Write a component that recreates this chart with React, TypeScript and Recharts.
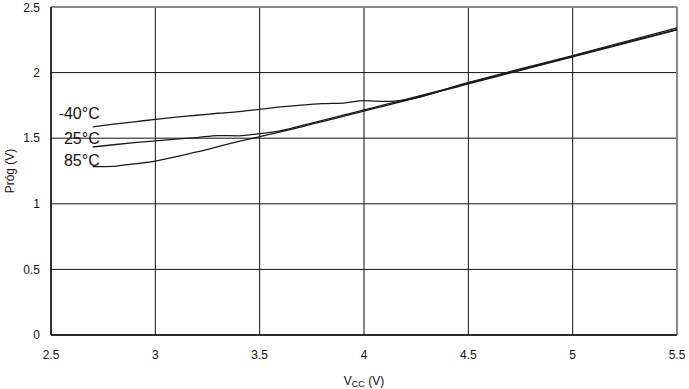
import { CartesianGrid, Line, LineChart, ReferenceLine, XAxis, YAxis } from 'recharts';

const vcc = [2.7, 2.8, 2.9, 3.0, 3.1, 3.2, 3.3, 3.4, 3.5, 3.6, 3.7, 3.8, 3.9, 4.0, 4.1, 4.2, 4.5, 5.0, 5.5];
const minus40 = [1.587, 1.607, 1.625, 1.644, 1.66, 1.675, 1.69, 1.703, 1.72, 1.738, 1.752, 1.763, 1.768, 1.786, 1.78, 1.792, 1.925, 2.13, 2.34];
const plus25 = [1.433, 1.45, 1.466, 1.48, 1.493, 1.505, 1.52, 1.518, 1.535, 1.556, 1.595, 1.635, 1.675, 1.715, 1.755, 1.795, 1.92, 2.125, 2.33];
const plus85 = [1.283, 1.286, 1.305, 1.325, 1.36, 1.395, 1.435, 1.475, 1.512, 1.548, 1.587, 1.627, 1.667, 1.707, 1.747, 1.787, 1.915, 2.12, 2.325];

const xTicks = [2.5, 3, 3.5, 4, 4.5, 5, 5.5];
const yTicks = [0, 0.5, 1, 1.5, 2, 2.5];

const series = [
  { key: 't40', name: '-40°C', values: minus40, dy: -8 },
  { key: 't25', name: '25°C', values: plus25, dy: -3 },
  { key: 't85', name: '85°C', values: plus85, dy: -1 },
];

const data = vcc.map((v, i) => ({
  vcc: v,
  t40: minus40[i],
  t25: plus25[i],
  t85: plus85[i],
}));

const font = '"Liberation Sans", Arial, sans-serif';

function seriesLabel(name: string, dy: number) {
  return (props: any) => {
    if (props.index !== 0) return null;
    return (
      <text x={props.x + 7} y={props.y + dy} textAnchor="end" fontSize={16} fontFamily={font} fill="#111">
        {name}
      </text>
    );
  };
}

function XTitle({ viewBox }: any) {
  const cx = viewBox.x + viewBox.width / 2;
  return (
    <text x={cx} y={385} textAnchor="middle" fontSize={12} fontFamily={font} fill="#111">
      <tspan>V</tspan>
      <tspan fontSize={9} dy={2}>CC</tspan>
      <tspan dy={-2}> (V)</tspan>
    </text>
  );
}

function YTitle({ viewBox }: any) {
  const cy = viewBox.y + viewBox.height / 2;
  return (
    <text
      x={14}
      y={cy}
      transform={`rotate(-90, 14, ${cy})`}
      textAnchor="middle"
      fontSize={12}
      fontFamily={font}
      fill="#111"
    >
      Próg (V)
    </text>
  );
}

export default function App() {
  return (
    <div style={{ position: 'absolute', left: 0, top: 0, background: '#fff' }}>
      <LineChart width={689} height={389} data={data} margin={{ top: 7, right: 12, left: 0, bottom: 0 }}>
        <CartesianGrid stroke="#111" strokeWidth={1} horizontalValues={yTicks} verticalValues={xTicks} />
        <XAxis
          dataKey="vcc"
          type="number"
          domain={[2.5, 5.5]}
          ticks={xTicks}
          height={54}
          tickLine={false}
          tickSize={6}
          tickMargin={9}
          axisLine={{ stroke: '#111', strokeWidth: 1.5 }}
          tick={{ fontSize: 12, fontFamily: font, fill: '#111' }}
          label={<XTitle />}
        />
        <YAxis
          type="number"
          domain={[0, 2.5]}
          ticks={yTicks}
          width={51}
          tickLine={false}
          tickSize={6}
          tickMargin={5}
          axisLine={{ stroke: '#111', strokeWidth: 1.5 }}
          tick={{ fontSize: 12, fontFamily: font, fill: '#111' }}
          label={<YTitle />}
        />
        <ReferenceLine y={2.5} stroke="#8a8a8a" strokeWidth={2} />
        <ReferenceLine x={5.5} stroke="#8a8a8a" strokeWidth={2} />
        {series.map((s) => (
          <Line
            key={s.key}
            dataKey={s.key}
            type="monotone"
            stroke="#1a1a1a"
            strokeWidth={1.3}
            dot={false}
            isAnimationActive={false}
            label={seriesLabel(s.name, s.dy)}
          />
        ))}
      </LineChart>
    </div>
  );
}
